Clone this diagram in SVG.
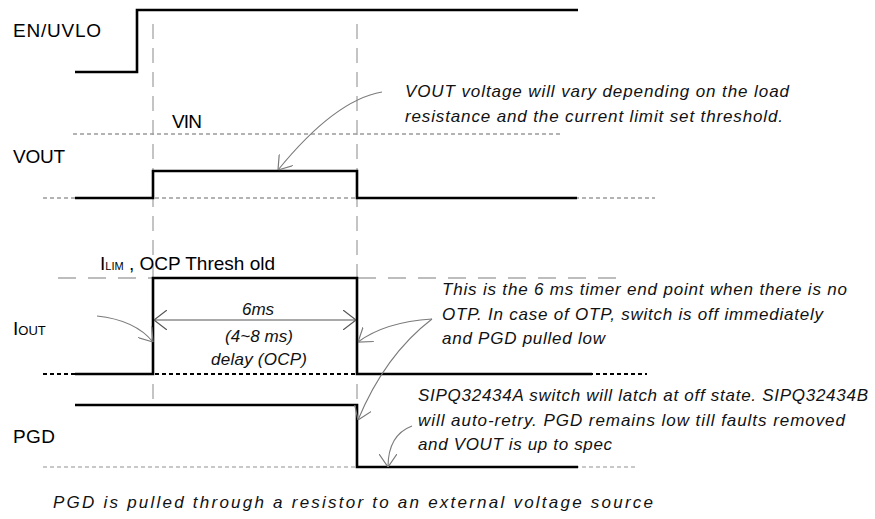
<svg xmlns="http://www.w3.org/2000/svg" width="875" height="519" viewBox="0 0 875 519">
<style>
.bg{fill:#fff}
.sig{fill:none;stroke:#000;stroke-width:2.6;stroke-linejoin:miter}
.guide{fill:none;stroke:#c4c4c4;stroke-width:2;stroke-dasharray:15 9}
.lim{fill:none;stroke:#bdbdbd;stroke-width:2;stroke-dasharray:18 12}
.dotg{fill:none;stroke:#9a9a9a;stroke-width:1.6;stroke-dasharray:4 3}
.dotl{fill:none;stroke:#c8c8c8;stroke-width:2;stroke-dasharray:4 3}
.dotk{fill:none;stroke:#000;stroke-width:2;stroke-dasharray:4 3}
.call{fill:none;stroke:#7a7a7a;stroke-width:1.1}
.dim{fill:none;stroke:#555;stroke-width:1.2}
.lbl{font-family:"Liberation Sans",Arial,sans-serif;font-size:19px;fill:#000}
.it{font-family:"Liberation Sans",Arial,sans-serif;font-size:17px;font-style:italic;fill:#111}
</style>
<defs>
<marker id="ah" markerUnits="userSpaceOnUse" viewBox="0 0 13 18" markerWidth="13" markerHeight="18" refX="13" refY="9" orient="auto">
<path d="M0,0 L13,9 L0,18" fill="none" stroke="#7a7a7a" stroke-width="1.2"/>
</marker>
<marker id="ahd" markerUnits="userSpaceOnUse" viewBox="0 0 13 20" markerWidth="13" markerHeight="20" refX="13" refY="10" orient="auto-start-reverse">
<path d="M0,0 L13,10 L0,20" fill="none" stroke="#555" stroke-width="1.2"/>
</marker>
</defs>
<rect class="bg" x="0" y="0" width="875" height="519"/>

<g id="guides">
<path class="guide" d="M153,24 V405"/>
<path class="guide" d="M357,24 V405"/>
</g>

<g id="en-uvlo">
<text class="lbl" x="13" y="37" textLength="88" lengthAdjust="spacing">EN/UVLO</text>
<path class="sig" d="M75,72 H137 V10 H578"/>
</g>

<g id="vout">
<text class="lbl" x="13" y="163" textLength="52" lengthAdjust="spacing">VOUT</text>
<path class="dotg" d="M73,134 H560"/>
<text class="lbl" x="172" y="128" font-size="16" textLength="30" lengthAdjust="spacing">VIN</text>
<path class="dotg" d="M43,198 H655"/>
<path class="sig" d="M75,198 H153 V171 H357 V198 H577"/>
</g>

<g id="iout">
<text class="lbl" x="13" y="335">I<tspan font-size="13">OUT</tspan></text>
<path class="lim" d="M58,278 H620"/>
<text class="lbl" x="100" y="270" font-size="17">I<tspan font-size="11">LIM</tspan><tspan> , OCP Thresh old</tspan></text>
<path class="dotk" d="M43,374 H647"/>
<path class="sig" d="M75,374 H153 V278 H357 V374 H592"/>
<text class="it" x="258" y="315" text-anchor="middle">6ms</text>
<text class="it" x="259" y="342" text-anchor="middle" textLength="68" lengthAdjust="spacing">(4~8 ms)</text>
<text class="it" x="259" y="365" text-anchor="middle" textLength="96" lengthAdjust="spacing">delay (OCP)</text>
</g>

<g id="pgd">
<text class="lbl" x="13" y="443" textLength="42" lengthAdjust="spacing">PGD</text>
<path class="dotl" d="M43,467 H638"/>
<path class="sig" d="M75,405 H357 V467 H578"/>
</g>

<g id="notes">
<text class="it" x="405" y="97" textLength="384" lengthAdjust="spacing">VOUT voltage will vary depending on the load</text>
<text class="it" x="405" y="122" textLength="378" lengthAdjust="spacing">resistance and the current limit set threshold.</text>
<text class="it" x="442" y="295" textLength="405" lengthAdjust="spacing">This is the 6 ms timer end point when there is no</text>
<text class="it" x="442" y="320" textLength="381" lengthAdjust="spacing">OTP. In case of OTP, switch is off immediately</text>
<text class="it" x="442" y="344" textLength="163" lengthAdjust="spacing">and PGD pulled low</text>
<text class="it" x="418" y="401" textLength="450" lengthAdjust="spacing">SIPQ32434A switch will latch at off state. SIPQ32434B</text>
<text class="it" x="418" y="426" textLength="427" lengthAdjust="spacing">will auto-retry. PGD remains low till faults removed</text>
<text class="it" x="418" y="450" textLength="194" lengthAdjust="spacing">and VOUT is up to spec</text>
<text class="it" x="53" y="508" font-size="19" textLength="600" lengthAdjust="spacing">PGD is pulled through a resistor to an external voltage source</text>
</g>

<g id="connectors">
<path class="call" d="M382,92 Q335,100 278,170" marker-end="url(#ah)"/>
<path class="call" d="M97,316 Q135,320 153,342" marker-end="url(#ah)"/>
<path class="dim" d="M154,320 H356" marker-start="url(#ahd)" marker-end="url(#ahd)"/>
<path class="call" d="M432,319 Q385,322 358,342" marker-end="url(#ah)"/>
<path class="call" d="M432,319 Q385,355 358,420" marker-end="url(#ah)"/>
<path class="call" d="M412,426 Q388,435 388,467" marker-end="url(#ah)"/>
</g>
</svg>
